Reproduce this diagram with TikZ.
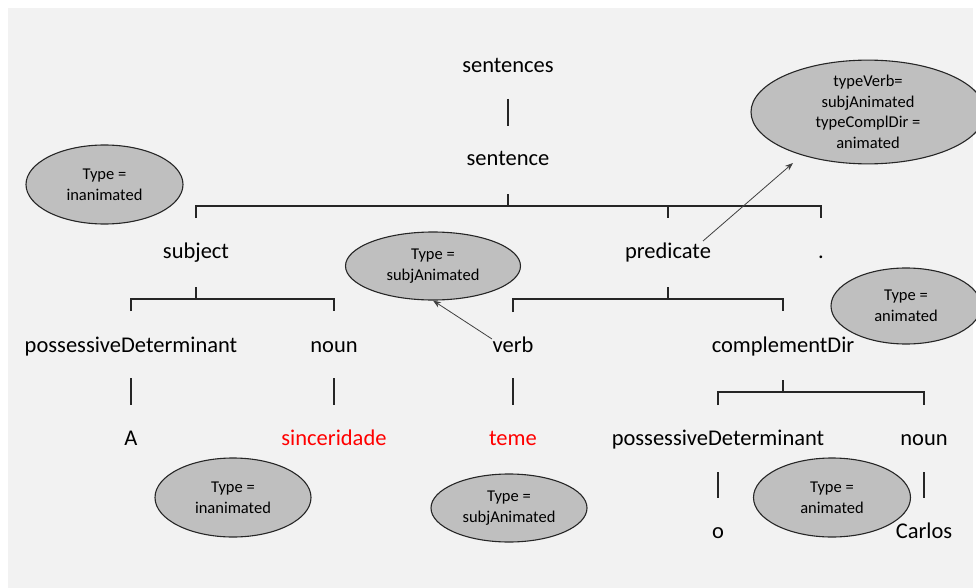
\documentclass[tikz,border=0pt]{standalone}
\usepackage{fontspec}
\setmainfont{Carlito}
\usetikzlibrary{shapes.geometric,arrows.meta}
\begin{document}
\begin{tikzpicture}[x=1pt,y=-1pt,
  word/.style={inner sep=0pt,anchor=base,font=\fontsize{22.5}{27}\selectfont},
  redword/.style={word,text=red},
  tree/.style={line width=1.2pt,black!85},
  bubble/.style={ellipse,draw=black!85,line width=1.1pt,fill=black!25,inner sep=0pt,
    align=center,font=\fontsize{16.5}{20.6}\selectfont},
  arr/.style={line width=0.8pt,black!75,-{Stealth[length=8pt,width=6pt]}}]
\useasboundingbox (0,0) rectangle (976,588);
\fill[white] (0,0) rectangle (976,588);
\fill[black!5] (8,8) rectangle (973,588);
% words
\node[word] (sentences) at (508,72.5) {sentences};
\node[word] (sentence) at (508,165.5) {sentence};
\node[word] (subject) at (196,258.5) {subject};
\node[word] (predicate) at (668,258.5) {predicate};
\node[word] (dot) at (821,258.5) {.};
\node[word] (pd1) at (131,352) {possessiveDeterminant};
\node[word] (noun1) at (334,352) {noun};
\node[word] (verb) at (513,352) {verb};
\node[word] (cdir) at (783,352) {complementDir};
\node[word] (A) at (131,445) {A};
\node[redword] (sinc) at (334,445) {sinceridade};
\node[redword] (teme) at (513,445) {teme};
\node[word] (pd2) at (718,445) {possessiveDeterminant};
\node[word] (noun2) at (924,445) {noun};
\node[word] (o) at (718,538) {o};
\node[word] (carlos) at (924,538) {Carlos};
% tree lines
\draw[tree] (508,99) -- (508,126);
\draw[tree] (508,194) -- (508,206);
\draw[tree] (196,218) -- (196,206) -- (821,206) -- (821,218);
\draw[tree] (668,206) -- (668,218);
\draw[tree] (196,287) -- (196,299);
\draw[tree] (131,311) -- (131,299) -- (334,299) -- (334,311);
\draw[tree] (668,287) -- (668,299);
\draw[tree] (513,312) -- (513,299) -- (783,299) -- (783,311);
\draw[tree] (131,378) -- (131,405);
\draw[tree] (334,378) -- (334,405);
\draw[tree] (513,378) -- (513,405);
\draw[tree] (783,380) -- (783,392);
\draw[tree] (718,405) -- (718,392) -- (924,392) -- (924,405);
\draw[tree] (718,472) -- (718,498);
\draw[tree] (924,472) -- (924,498);
% bubbles
\node[bubble,minimum width=157pt,minimum height=79pt] (e1) at (104.5,184.5) {Type =\\inanimated};
\node[bubble,minimum width=175pt,minimum height=68pt] (e2) at (433,266) {Type =\\subjAnimated};
\node[bubble,minimum width=234pt,minimum height=100pt] (e3) at (868,112) {typeVerb=\\subjAnimated\\typeComplDir =\\animated};
\node[bubble,minimum width=150pt,minimum height=76pt] (e4) at (906,306) {Type =\\animated};
\node[bubble,minimum width=156pt,minimum height=79pt] (e5) at (233,497.5) {Type =\\inanimated};
\node[bubble,minimum width=156pt,minimum height=68pt] (e6) at (509,508) {Type =\\subjAnimated};
\node[bubble,minimum width=157pt,minimum height=79pt] (e7) at (832,497.5) {Type =\\animated};
% arrows
\coordinate (vstart) at (492,339);
\coordinate (pstart) at (703,241);
\coordinate (tvtip) at (793,163);
\draw[arr] (vstart) -- (e2.south);
\draw[arr] (pstart) -- (tvtip);
\end{tikzpicture}
\end{document}
